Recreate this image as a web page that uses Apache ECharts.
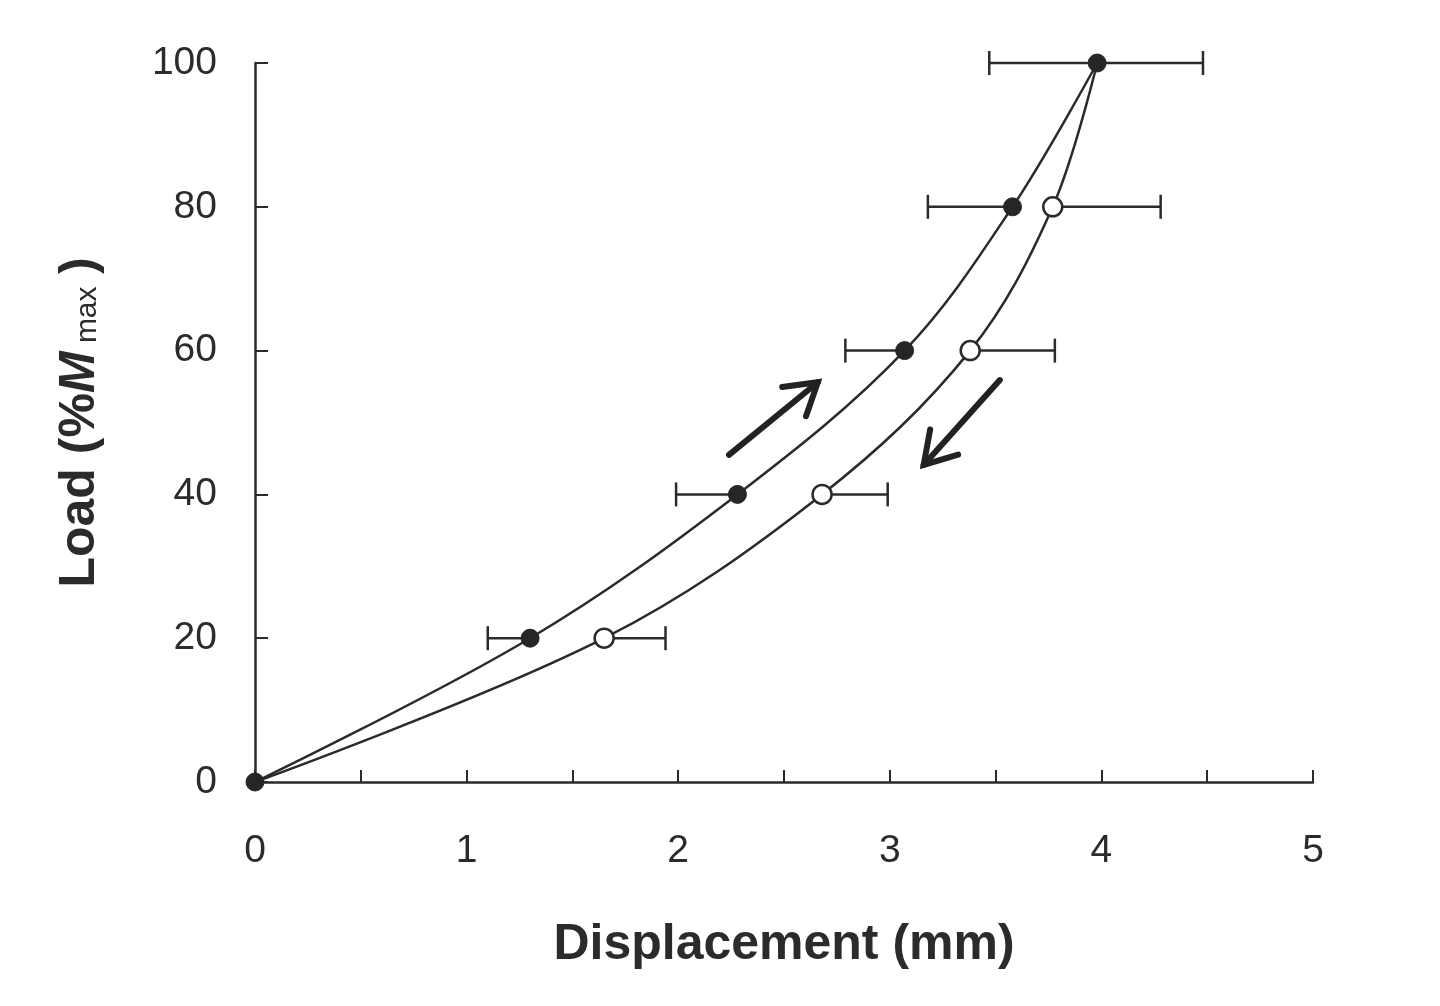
<!DOCTYPE html>
<html>
<head>
<meta charset="utf-8">
<script src="https://cdn.jsdelivr.net/npm/echarts@6/dist/echarts.min.js"></script>
<style>
  html, body { margin: 0; padding: 0; background: #fff; }
  #chart { width: 1440px; height: 1006px; }
</style>
</head>
<body>
<div id="chart"></div>
<script>
// load levels (% of Mmax) and mean displacement (mm)
var loadLevels = [0, 20, 40, 60, 80, 100];
var loadingX = [0, 1.30, 2.28, 3.07, 3.58, 3.98];
var unloadLevels = [100, 80, 60, 40, 20, 0];
var unloadingX = [3.98, 3.77, 3.38, 2.68, 1.65, 0];

// one-sided error bars: loading to the left, unloading to the right
var errLevels = [20, 40, 60, 80, 100];
var loadingMean = [1.30, 2.28, 3.07, 3.58, 3.98];
var loadingErrLow = [1.10, 1.99, 2.79, 3.18, 3.47];
var unloadingMean = [1.65, 2.68, 3.38, 3.77, 3.98];
var unloadingErrHigh = [1.94, 2.99, 3.78, 4.28, 4.48];

// direction arrows: [x0, y0, x1, y1]
var arrows = [
  [2.24, 45.5, 2.66, 55.6],
  [3.52, 55.9, 3.16, 44.1]
];

var ink = '#2b2b2b';

function pairs(xs, ys) {
  var out = [];
  for (var i = 0; i < xs.length; i++) out.push([xs[i], ys[i]]);
  return out;
}

// [from, to, level, side]
var errData = [];
for (var i = 0; i < errLevels.length; i++) {
  errData.push([loadingErrLow[i], loadingMean[i], errLevels[i], 0]);
  errData.push([unloadingMean[i], unloadingErrHigh[i], errLevels[i], 1]);
}

var loadingData = pairs(loadingX, loadLevels);
var unloadingData = pairs(unloadingX, unloadLevels).map(function (p, i) {
  // first/last share the loading markers
  if (i === 0 || i === unloadingX.length - 1) return { value: p, symbol: 'none' };
  return p;
});

var chart = echarts.init(document.getElementById('chart'));

var option = {
  backgroundColor: '#fff',
  animation: false,
  grid: { left: 255, right: 127, top: 63, bottom: 224 },
  xAxis: {
    type: 'value',
    min: 0, max: 5, interval: 1,
    name: 'Displacement (mm)',
    nameLocation: 'middle',
    nameGap: 138,
    nameTextStyle: { fontFamily: 'Liberation Sans', fontSize: 50, fontWeight: 'bold', color: ink },
    axisLine: { lineStyle: { color: ink, width: 2.5 } },
    axisTick: { inside: true, length: 12, lineStyle: { color: ink, width: 2 } },
    minorTick: { show: true, splitNumber: 2, length: 12, lineStyle: { color: ink, width: 2 } },
    axisLabel: { margin: 50, fontFamily: 'Liberation Sans', fontSize: 39, color: ink },
    splitLine: { show: false }
  },
  yAxis: {
    type: 'value',
    min: 0, max: 100, interval: 20,
    name: '{n|Load (%}{m|M}{s| max }{n|)}',
    nameLocation: 'middle',
    nameGap: 150,
    nameRotate: 90,
    nameTextStyle: {
      rich: {
        n: { fontFamily: 'Liberation Sans', fontSize: 50, fontWeight: 'bold', color: ink },
        m: { fontFamily: 'Liberation Sans', fontSize: 50, fontWeight: 'bold', fontStyle: 'italic', color: ink },
        s: { fontFamily: 'Liberation Sans', fontSize: 30, color: ink, padding: [16, 4, 0, 0] }
      }
    },
    axisLine: { show: true, lineStyle: { color: ink, width: 2.5 } },
    axisTick: { inside: true, length: 13, lineStyle: { color: ink, width: 2 } },
    axisLabel: { margin: 38, fontFamily: 'Liberation Sans', fontSize: 39, color: ink },
    splitLine: { show: false }
  },
  series: [
    {
      type: 'custom',
      name: 'error',
      data: errData,
      z: 1,
      renderItem: function (params, api) {
        var y = api.value(2);
        var a = api.coord([api.value(0), y]);
        var b = api.coord([api.value(1), y]);
        var h = 12;
        var style = { stroke: ink, lineWidth: 2.5 };
        // cap only at the outer end
        var capX = api.value(3) === 0 ? a[0] : b[0];
        return {
          type: 'group',
          children: [
            { type: 'line', shape: { x1: a[0], y1: a[1], x2: b[0], y2: b[1] }, style: style },
            { type: 'line', shape: { x1: capX, y1: a[1] - h, x2: capX, y2: a[1] + h }, style: style }
          ]
        };
      }
    },
    {
      type: 'line',
      name: 'unloading',
      data: unloadingData,
      smooth: 0.35,
      z: 2,
      lineStyle: { color: ink, width: 2.5 },
      symbol: 'circle',
      symbolSize: 19,
      itemStyle: { color: '#fff', borderColor: ink, borderWidth: 2.5 }
    },
    {
      type: 'line',
      name: 'loading',
      data: loadingData,
      smooth: 0.35,
      z: 3,
      lineStyle: { color: ink, width: 2.5 },
      symbol: 'circle',
      symbolSize: 18,
      itemStyle: { color: '#262626', borderColor: '#262626', borderWidth: 1 }
    },
    {
      type: 'custom',
      name: 'arrows',
      data: arrows,
      z: 4,
      renderItem: function (params, api) {
        var p0 = api.coord([api.value(0), api.value(1)]);
        var p1 = api.coord([api.value(2), api.value(3)]);
        var ang = Math.atan2(p1[1] - p0[1], p1[0] - p0[0]);
        var L = 36, spread = 0.55;
        var h1 = [p1[0] - L * Math.cos(ang - spread), p1[1] - L * Math.sin(ang - spread)];
        var h2 = [p1[0] - L * Math.cos(ang + spread), p1[1] - L * Math.sin(ang + spread)];
        var style = { stroke: '#222', lineWidth: 6, fill: null, lineCap: 'round', lineJoin: 'miter' };
        return {
          type: 'group',
          children: [
            { type: 'line', shape: { x1: p0[0], y1: p0[1], x2: p1[0], y2: p1[1] }, style: style },
            { type: 'polyline', shape: { points: [h1, p1, h2] }, style: style }
          ]
        };
      }
    }
  ]
};

chart.setOption(option);
</script>
</body>
</html>
